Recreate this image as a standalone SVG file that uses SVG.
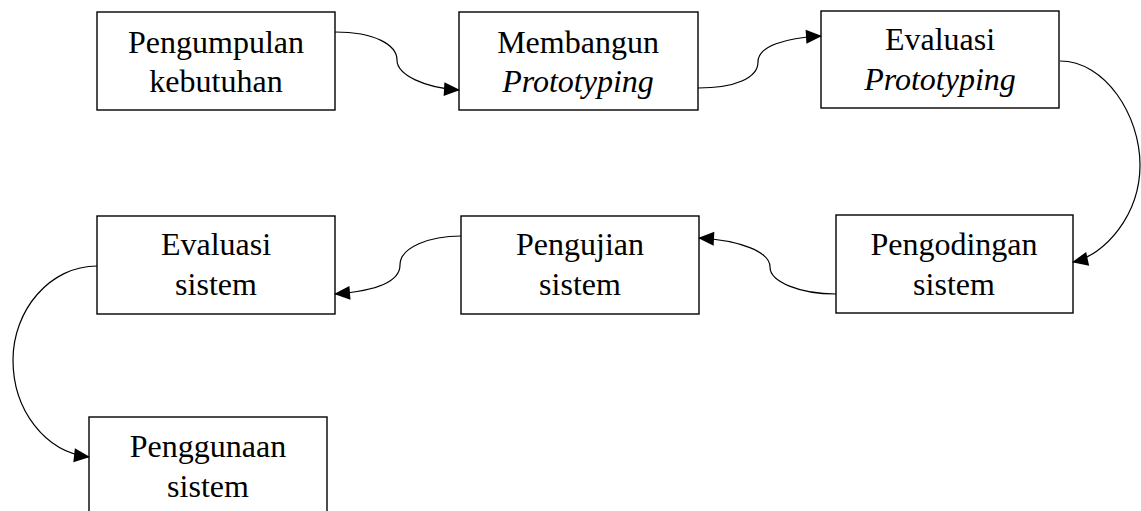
<svg xmlns="http://www.w3.org/2000/svg" width="1141" height="511" viewBox="0 0 1141 511">
  <style>
    .box { fill: #ffffff; stroke: #000000; stroke-width: 1.4; }
    .label { font-family: "Liberation Serif", "Times New Roman", serif; font-size: 32px; fill: #000000; text-anchor: middle; }
    .it { font-style: italic; }
    .conn { fill: none; stroke: #000000; stroke-width: 1.2; marker-end: url(#arrow); }
  </style>
  <defs>
    <marker id="arrow" markerUnits="userSpaceOnUse" markerWidth="18" markerHeight="16" refX="15" refY="7" orient="auto" overflow="visible">
      <path d="M0,0 L16,7 L0,14 z" fill="#000000"/>
    </marker>
  </defs>
  <rect width="1141" height="511" fill="#ffffff"/>

  <!-- process steps -->
  <g id="pengumpulan">
    <rect class="box" x="97" y="12" width="238" height="98"/>
    <text class="label" x="216" y="53">Pengumpulan</text>
    <text class="label" x="216" y="92">kebutuhan</text>
  </g>
  <g id="membangun">
    <rect class="box" x="459" y="12" width="239" height="98"/>
    <text class="label" x="578" y="53">Membangun</text>
    <text class="label it" x="578" y="92">Prototyping</text>
  </g>
  <g id="evaluasi-prototyping">
    <rect class="box" x="821" y="11" width="238" height="97"/>
    <text class="label" x="940" y="50">Evaluasi</text>
    <text class="label it" x="940" y="90">Prototyping</text>
  </g>
  <g id="pengodingan">
    <rect class="box" x="836" y="215" width="237" height="98"/>
    <text class="label" x="954" y="255">Pengodingan</text>
    <text class="label" x="954" y="295">sistem</text>
  </g>
  <g id="pengujian">
    <rect class="box" x="461" y="216" width="238" height="98"/>
    <text class="label" x="580" y="255">Pengujian</text>
    <text class="label" x="580" y="295">sistem</text>
  </g>
  <g id="evaluasi-sistem">
    <rect class="box" x="97" y="216" width="238" height="98"/>
    <text class="label" x="216" y="255">Evaluasi</text>
    <text class="label" x="216" y="295">sistem</text>
  </g>
  <g id="penggunaan">
    <rect class="box" x="89" y="417" width="238" height="110"/>
    <text class="label" x="208" y="457">Penggunaan</text>
    <text class="label" x="208" y="497">sistem</text>
  </g>

  <!-- curved connectors -->
  <g id="connectors">
    <path class="conn" d="M335,32 C375,32 397,45 397,60 C397,75 425,88 459,90"/>
    <path class="conn" d="M698,88 C735,88 758,78 758,62 C758,46 785,38 821,36"/>
    <path class="conn" d="M1060,61 C1105,61 1140,115 1140,165 C1140,215 1105,255 1073,262"/>
    <path class="conn" d="M836,294 C800,294 770,282 770,267 C770,252 740,240 699,238"/>
    <path class="conn" d="M461,236 C430,236 400,247 400,265 C400,282 375,291 335,294"/>
    <path class="conn" d="M97,266 C50,266 13,310 13,360 C13,410 45,452 89,457"/>
  </g>
</svg>
